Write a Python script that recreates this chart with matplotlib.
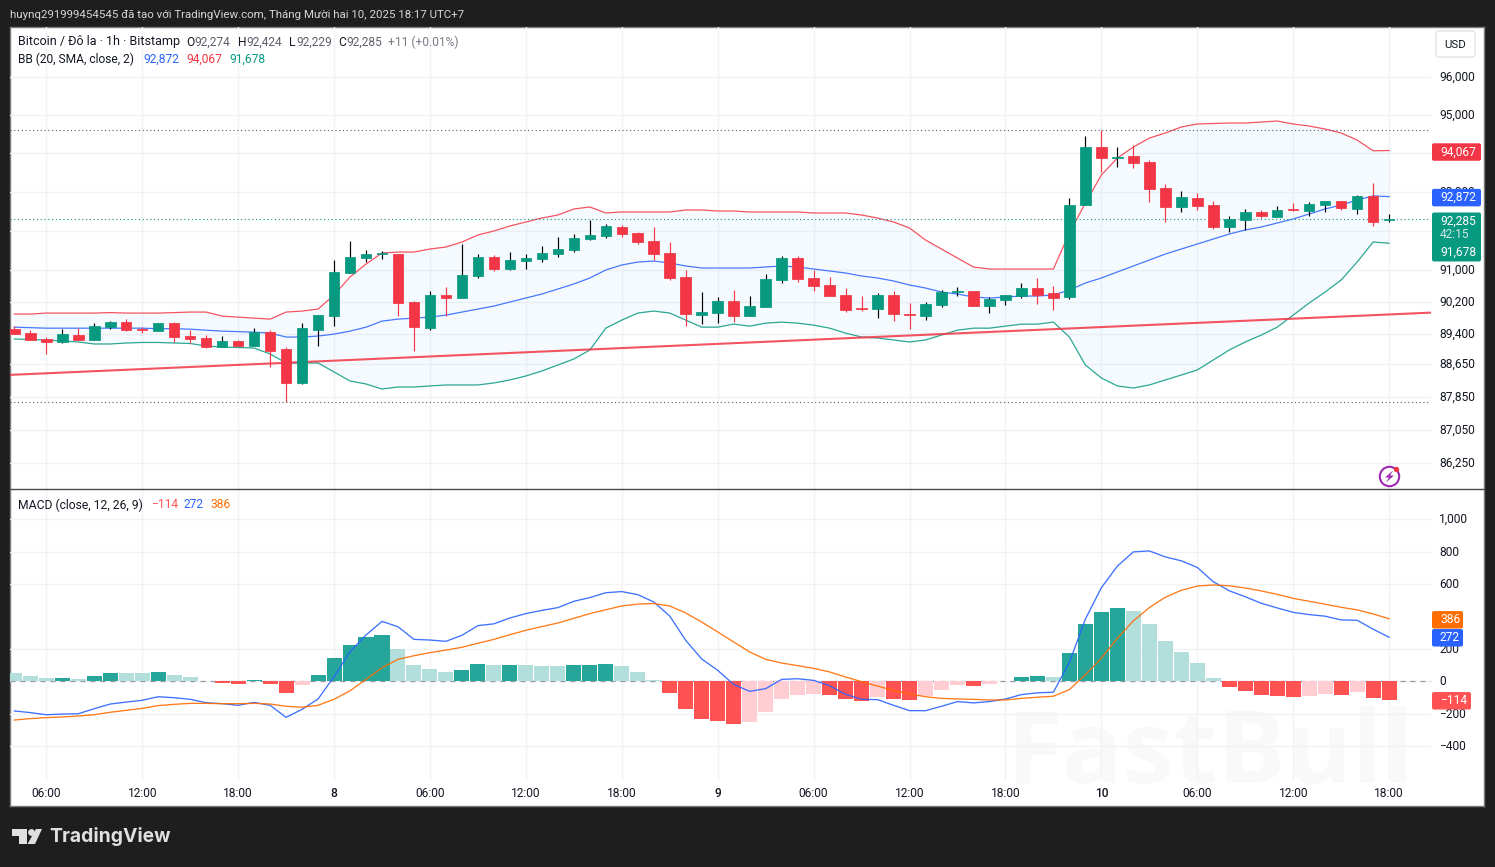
import numpy as np
import matplotlib
matplotlib.use('Agg')
import matplotlib.pyplot as plt
from matplotlib.patches import Circle, Polygon, FancyBboxPatch
from matplotlib.transforms import ScaledTranslation

# ---------- data ----------
opens = [89518,89420,89274,89200,89372,89250,89568,89693,89518,89469,89668,89347,89298,89076,89225,89101,89444,89027,88192,89493,
 89843,90924,91302,91404,91404,90195,89543,90370,90295,90849,91328,91025,91226,91277,91404,91506,91786,91862,92092,91939,
 91735,91429,90824,89868,89919,90220,89843,90069,90748,91302,90798,90622,90370,90044,90019,90370,89894,89843,90120,90446,
 90471,90094,90245,90345,90546,90420,90320,92656,94158,93871,93923,93767,93094,92605,92835,92656,92092,92271,92477,92348,
 92554,92502,92656,92759,92554,92887,92274]
highs = [89593,89493,89323,89518,89543,89668,89718,89768,89568,89668,89693,89493,89372,89347,89250,89543,89493,89076,89668,89868,
 91252,91735,91506,91480,91404,90220,90471,90571,91658,91404,91379,91455,91404,91608,91836,91913,92271,92169,92143,91965,
 92092,91709,91000,90446,90320,90496,90345,90899,91353,91353,91000,90824,90546,90345,90420,90471,90170,90195,90496,90571,
 90471,90320,90370,90672,90798,90597,92835,94446,94604,94158,94210,93819,93197,93016,92964,92759,92374,92554,92528,92630,
 92708,92733,92759,92759,92913,93223,92424]
lows = [89396,89250,88904,89175,89250,89250,89518,89469,89420,89469,89200,89175,89051,89076,89101,89101,88584,87729,88167,89101,
 89593,90924,91201,91277,89843,88977,89493,89843,90295,90798,90975,91000,91025,91201,91328,91455,91760,91811,91836,91658,
 91252,90748,89593,89643,89668,89693,89843,90069,90672,90698,90471,90345,89944,89969,89793,89718,89518,89743,90069,90345,
 90094,89919,90120,90295,90145,89994,90270,92656,93508,93638,93612,92733,92220,92477,92528,92041,91965,92016,92322,92348,
 92502,92374,92477,92528,92425,92118,92229]
closes = [89396,89250,89200,89396,89250,89593,89693,89493,89493,89668,89323,89274,89076,89225,89101,89444,88977,88192,89543,89868,
 90950,91328,91404,91429,90170,89568,90370,90295,90874,91328,91025,91252,91302,91429,91531,91811,91888,92118,91913,91709,
 91404,90798,89894,89944,90220,89843,90094,90773,91302,90773,90597,90345,89994,90019,90370,89894,89868,90145,90446,90471,
 90094,90270,90370,90546,90370,90295,92656,94158,93871,93897,93741,93068,92605,92861,92630,92092,92297,92477,92374,92528,
 92528,92682,92759,92579,92887,92220,92285]

bb_upper = [89894,89894,89919,89919,89919,89919,89931,89919,89919,89919,89931,89944,89944,89843,89818,89793,89768,89944,89969,90019,
 90370,90824,91151,91429,91455,91455,91531,91582,91709,91888,91990,92118,92220,92322,92399,92554,92605,92451,92477,92477,
 92477,92477,92528,92528,92502,92502,92477,92477,92477,92477,92451,92451,92451,92399,92322,92220,92067,91760,91531,91302,
 91076,91025,91025,91025,91025,91025,91939,92707,93430,93871,94158,94393,94525,94683,94762,94775,94788,94788,94814,94840,
 94762,94709,94630,94525,94341,94060,94067]
bb_mid = [89568,89556,89543,89543,89543,89543,89543,89543,89543,89530,89530,89518,89493,89469,89457,89444,89420,89323,89323,89347,
 89396,89469,89568,89718,89768,89793,89818,89868,89944,90019,90094,90195,90295,90395,90521,90647,90798,91000,91126,91201,
 91226,91176,91101,91050,91050,91050,91050,91076,91101,91076,91025,90975,90924,90849,90798,90723,90622,90546,90446,90395,
 90320,90295,90320,90345,90345,90370,90496,90672,90798,90950,91101,91252,91404,91531,91658,91786,91913,92016,92092,92194,
 92297,92425,92554,92656,92784,92890,92872]
bb_lower = [89274,89262,89250,89225,89200,89151,89151,89175,89188,89188,89175,89163,89101,89076,89064,89051,88904,88682,88682,88682,
 88461,88240,88167,88044,88093,88093,88118,88143,88143,88143,88192,88265,88363,88485,88633,88780,89002,89543,89743,89919,
 89969,89919,89743,89568,89568,89643,89593,89668,89693,89668,89618,89543,89420,89323,89298,89250,89200,89250,89372,89493,
 89543,89543,89593,89643,89643,89693,89323,88633,88314,88118,88069,88143,88265,88387,88510,88756,89002,89200,89372,89568,
 89868,90170,90446,90748,91201,91709,91678]

macd_hist = [51,33,21,23,14,33,51,50,49,58,39,27,2,-10,-16,8,-16,-72,-23,39,
 144,224,274,286,200,101,76,58,70,107,100,102,99,93,92,99,100,105,93,56,
 6,-74,-173,-235,-247,-265,-253,-191,-111,-86,-80,-86,-111,-123,-99,-111,-117,-93,-56,-25,
 -27,-14,4,29,30,29,176,355,428,453,435,355,250,182,115,22,-33,-58,-82,-88,
 -94,-88,-76,-82,-64,-100,-114]
macd_line = [-183,-193,-206,-202,-200,-169,-140,-128,-117,-95,-101,-111,-132,-138,-148,-130,-148,-222,-173,-109,
 29,183,286,370,337,259,255,247,284,344,355,391,418,438,455,494,517,547,554,535,
 490,403,253,138,68,-19,-62,-45,12,16,6,-27,-80,-111,-113,-148,-181,-181,-154,-125,
 -133,-125,-109,-82,-71,-67,117,384,578,711,799,805,768,744,703,615,559,522,482,453,
 426,412,402,379,377,322,272]
macd_signal = [-239,-230,-224,-220,-214,-206,-191,-179,-167,-150,-142,-136,-136,-138,-138,-136,-140,-154,-160,-148,
 -111,-58,12,84,136,158,177,193,210,235,259,288,315,338,360,389,418,442,465,477,
 480,465,422,366,305,243,181,136,113,97,80,58,27,-2,-29,-56,-78,-95,-105,-109,
 -111,-115,-115,-105,-98,-92,-51,41,143,266,373,455,519,562,588,595,590,576,558,537,
 512,494,476,457,441,416,386]

bars = np.arange(-2, 85)          # hours counted from 06:00 on day 7
for arr in (opens, highs, lows, closes, bb_upper, bb_mid, bb_lower, macd_hist, macd_line, macd_signal):
    assert len(arr) == len(bars), len(arr)

trend_x = [-2.27, 86.62]
trend_p = [88390, 89930]
visible_high = 94604
visible_low = 87729
last_close = 92285
price_ticks = [96000, 95000, 94000, 93000, 92000, 91000, 90200, 89400, 88650, 87850, 87050, 86250]
macd_ticks = [1000, 800, 600, 200, 0, -200, -400]
time_ticks = [0, 6, 12, 18, 24, 30, 36, 42, 48, 54, 60, 66, 72, 78, 84]
time_labels = ['06:00', '12:00', '18:00', '8', '06:00', '12:00', '18:00', '9', '06:00', '12:00', '18:00', '10', '06:00', '12:00', '18:00']

# ---------- style ----------
W, H = 1495, 867
FONT = ['Roboto', 'DejaVu Sans']
plt.rcParams['font.family'] = FONT
BG = '#1e1e1e'; UP = '#089981'; DOWN = '#F23645'; GRID = '#f1f2f5'
BLUE = '#2962FF'; ORANGE = '#FF6D00'; TXT = '#131722'
PX = 0.72
fs = 12 * PX

fig = plt.figure(figsize=(W / 100, H / 100), dpi=100, facecolor=BG)
raise_1px = ScaledTranslation(0, 1.2 / 100, fig.dpi_scale_trans)

def rect(l, t, r, b):
    return [l / W, 1 - b / H, (r - l) / W, (b - t) / H]

# panel
bg = fig.add_axes(rect(10, 27, 1484, 806), zorder=0, facecolor='white')
bg.set_xticks([]); bg.set_yticks([])
bg.set_xlim(10, 1484); bg.set_ylim(806, 27)
for s in bg.spines.values():
    s.set_color('#7a7a7a'); s.set_linewidth(1)
bg.text(1211, 757, 'FastBull', ha='center', va='center', fontsize=73, fontweight='bold',
        color='#f9f9f9', family=['Open Sans', 'DejaVu Sans'], zorder=1)

XLIM = (-2.27, 86.62)

# price pane
ax = fig.add_axes(rect(10, 27, 1431, 489), zorder=2, facecolor='none')
ax.set_yscale('log')
ax.set_xlim(*XLIM)
ax.set_ylim(85635, 97347)
ax.minorticks_off()
ax.set_xticks(time_ticks)
ax.set_yticks(price_ticks)
ax.set_yticklabels([f'{p:,}' for p in price_ticks])
ax.yaxis.tick_right()
ax.tick_params(axis='y', length=0, pad=6, labelsize=fs, labelcolor=TXT, which='both')
ax.tick_params(axis='x', length=0, labelbottom=False)
ax.yaxis.set_minor_locator(matplotlib.ticker.NullLocator())
ax.grid(True, color=GRID, lw=1, zorder=0)
ax.set_axisbelow(True)
for s in ax.spines.values():
    s.set_visible(False)
for lab in ax.get_yticklabels():
    lab.set_transform(lab.get_transform() + raise_1px)

ax.fill_between(bars, bb_lower, bb_upper, color='#2196F3', alpha=0.045, lw=0, zorder=1)
ax.plot(bars, bb_upper, color=DOWN, lw=0.9, zorder=2, alpha=.85)
ax.plot(bars, bb_mid, color=BLUE, lw=0.9, zorder=2, alpha=.85)
ax.plot(bars, bb_lower, color=UP, lw=0.9, zorder=2, alpha=.85)
ax.plot(trend_x, trend_p, color=DOWN, lw=1.5, zorder=2, alpha=.85)
ax.axhline(visible_high, color='#555a66', lw=0.8, ls=(0, (1, 2.4)), zorder=2)
ax.axhline(visible_low, color='#555a66', lw=0.8, ls=(0, (1, 2.4)), zorder=2)
ax.axhline(last_close, color=UP, lw=0.8, ls=(0, (1, 2.4)), zorder=2)

o = np.array(opens, float); c = np.array(closes, float)
up = c >= o
body_col = [UP if u else DOWN for u in up]
wick_col = ['#000000' if u else DOWN for u in up]
ax.vlines(bars, lows, highs, colors=wick_col, lw=0.85, zorder=3)
ax.bar(bars, np.abs(c - o), bottom=np.minimum(o, c), width=0.66, color=body_col,
       edgecolor=body_col, lw=0.55, zorder=4)

# macd pane
ax2 = fig.add_axes(rect(10, 490, 1431, 780), zorder=2, facecolor='none')
ax2.set_xlim(*XLIM)
ax2.set_ylim(-609, 1181)
ax2.set_yticks(macd_ticks)
ax2.set_yticklabels([f'{v:,}'.replace('-', '\u2212') for v in macd_ticks])
ax2.yaxis.tick_right()
ax2.tick_params(axis='y', length=0, pad=6, labelsize=fs, labelcolor=TXT)
for lab in ax2.get_yticklabels():
    lab.set_transform(lab.get_transform() + raise_1px)
ax2.set_xticks(time_ticks)
ax2.set_xticklabels(time_labels)
ax2.tick_params(axis='x', length=0, pad=5.2, labelsize=fs, labelcolor=TXT)
for lab in ax2.get_xticklabels():
    if ':' not in lab.get_text():
        lab.set_fontweight('medium')
ax2.grid(True, color=GRID, lw=1, zorder=0)
ax2.set_axisbelow(True)
for s in ax2.spines.values():
    s.set_visible(False)

hist = np.array(macd_hist, float)
prev = np.r_[hist[0] + 1, hist[:-1]]
hist_col = []
for v, p in zip(hist, prev):
    if v >= 0:
        hist_col.append('#26A69A' if v > p else '#B2DFDB')
    else:
        hist_col.append('#FF5252' if v < p else '#FFCDD2')
ax2.bar(bars, hist, width=0.94, color=hist_col, lw=0, zorder=2)
ax2.axhline(0, color='#9598a1', lw=0.9, ls=(0, (4, 4)), zorder=1.5)
ax2.plot(bars, macd_line, color=BLUE, lw=0.95, zorder=3, alpha=.9)
ax2.plot(bars, macd_signal, color=ORANGE, lw=0.95, zorder=3, alpha=.9)

# overlay in pixel space for the chart furniture
ov = fig.add_axes([0, 0, 1, 1], zorder=5, facecolor='none')
ov.set_xlim(0, W); ov.set_ylim(H, 0); ov.axis('off')
ov.plot([10, 1484], [489, 489], color='#4a4a4a', lw=1)

def ypx(a, v):
    return H - a.transData.transform((0, v))[1]

def tag(a, v, s, col, right=1481, h=17.5, dy=1.5):
    y = ypx(a, v) + dy
    ov.add_patch(FancyBboxPatch((1432, y - h / 2), right - 1432, h, boxstyle='round,pad=0,rounding_size=2',
                                fc=col, ec='none'))
    ov.text(1440, y, s, color='white', fontsize=fs, va='center', ha='left')

tag(ax, bb_upper[-1], f'{bb_upper[-1]:,}', DOWN)
tag(ax, bb_mid[-1], f'{bb_mid[-1]:,}', BLUE, dy=1)
ov.add_patch(FancyBboxPatch((1432, 212.5), 49, 49, boxstyle='round,pad=0,rounding_size=2', fc=UP, ec='none'))
ov.text(1440, 221, f'{last_close:,}', color='white', fontsize=fs, va='center')
ov.text(1440, 235, '42:15', color='#cfe9e4', fontsize=fs, va='center')
ov.text(1440, 252, f'{bb_lower[-1]:,}', color='white', fontsize=fs, va='center')
tag(ax2, macd_signal[-1], str(macd_signal[-1]), ORANGE, right=1463, dy=1)
tag(ax2, macd_line[-1], str(macd_line[-1]), BLUE, right=1463, dy=0.5)
tag(ax2, macd_hist[-1], str(macd_hist[-1]).replace('-', '\u2212'), '#FF5252', right=1471, dy=1)

# USD button
ov.add_patch(FancyBboxPatch((1436, 31), 39, 26, boxstyle='round,pad=0,rounding_size=3', fc='white', ec='#e0e3eb', lw=1))
ov.text(1455, 44.5, 'USD', color=TXT, fontsize=fs * .95, ha='center', va='center')

# header
ov.text(10, 14.5, 'huynq291999454545 đã tạo với TradingView.com, Tháng Mười hai 10, 2025 18:17 UTC+7',
        color='#d6d6d6', fontsize=11.5 * PX, va='center', ha='left')

def line(y, parts, size=fs):
    for x, s, col in parts:
        ov.text(x, y, s, color=col, fontsize=size, va='center', ha='left')

GREY = '#5d606b'
line(42, [(18, 'Bitcoin / Đô la · 1h · Bitstamp', TXT)], size=fs * 1.045)
line(42, [(186, 'O', TXT), (194, '92,274', GREY),
          (238, 'H', TXT), (246, '92,424', GREY), (289, 'L', TXT), (296, '92,229', GREY),
          (338, 'C', TXT), (346, '92,285', GREY), (388, '+11 (+0.01%)', '#787b86')])
line(59, [(18, 'BB (20, SMA, close, 2)', TXT), (143, f'{bb_mid[-1]:,}', BLUE),
          (186, f'{bb_upper[-1]:,}', DOWN), (229, f'{bb_lower[-1]:,}', UP)])
line(505, [(18, 'MACD (close, 12, 26, 9)', TXT)], size=fs * 1.015)
line(505, [(151, str(macd_hist[-1]).replace('-', '\u2212'), '#FF5252'),
           (183, str(macd_line[-1]), BLUE), (210, str(macd_signal[-1]), ORANGE)])

# lightning badge
ov.add_patch(Circle((1389.5, 476.5), 9.7, fc='white', ec='#9C27B0', lw=1.5))
ov.add_patch(Polygon([(1393, 470.5), (1385, 477.5), (1389, 477.5), (1386, 482.5), (1394, 475.5), (1390, 475.5)],
                     fc='#9C27B0', ec='none'))
ov.add_patch(Circle((1396.5, 469.5), 2.7, fc='#F23645', ec='none'))

# TradingView logo
LOGO = '#e0e0e0'
ov.add_patch(Polygon([(12, 829), (27, 829), (27, 844), (19, 844), (19, 836), (12, 836)], fc=LOGO, ec='none'))
ov.add_patch(Circle((31.5, 832.5), 3.4, fc=LOGO, ec='none'))
ov.add_patch(Polygon([(36, 829), (42, 829), (35, 844), (27.5, 844)], fc=LOGO, ec='none'))
ov.text(49, 837, 'TradingView', color=LOGO, fontsize=13.9, fontweight='bold', va='center', ha='left',
        family=['Inter', 'DejaVu Sans'])

fig.savefig('out.png', dpi=100, facecolor=BG)
